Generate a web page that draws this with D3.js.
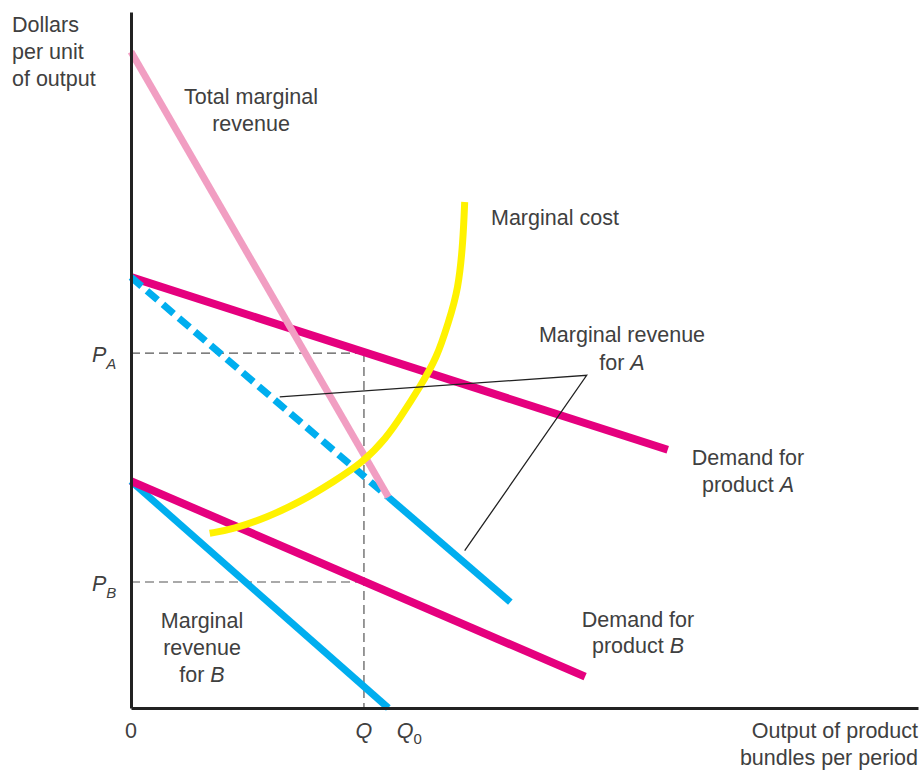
<!DOCTYPE html>
<html>
<head>
<meta charset="utf-8">
<script src="https://cdn.jsdelivr.net/npm/d3@7"></script>
<style>
  html, body { margin: 0; padding: 0; background: #fff; }
  svg { display: block; }
  text { font-family: "Liberation Sans", Arial, sans-serif; font-size: 21.5px; fill: #404040; }
  .it { font-style: italic; }
</style>
</head>
<body>
<script>
// Bundling: two demand curves, their marginal revenues, total MR and MC
const demandA = [[0, 6.19], [6.82, 3.71]];
const demandB = [[0, 3.26], [5.77, 0.45]];
const mrA = [[0, 6.19], [3.27, 3.03], [4.82, 1.52]];   // dashed up to Q0, solid after
const mrB = [[0, 3.26], [3.27, 0]];
const totalMR = [[0, 9.43], [3.27, 3.03]];
const marginalCost = [[1.00, 2.51], [1.30, 2.57], [1.73, 2.74], [2.15, 2.96], [2.57, 3.25],
                      [2.95, 3.53], [3.25, 3.89], [3.42, 4.17], [3.67, 4.61], [3.89, 5.04],
                      [4.03, 5.53], [4.16, 6.01], [4.22, 6.72], [4.24, 7.27]];
const leader = [[1.89, 4.47], [5.79, 4.78], [4.24, 2.26]];
const qValue = 2.96, q0Value = 3.27, pA = 5.10, pB = 1.81;
const xTickLabels = ["0", "Q", "Q0"];

const W = 921, H = 770;
const svg = d3.select("body").append("svg").attr("width", W).attr("height", H);

const x = d3.scaleLinear().domain([0, 10]).range([131, 918]);
const y = d3.scaleLinear().domain([0, 10]).range([708, 12]);
const line = d3.line().x(d => x(d[0])).y(d => y(d[1]));

// reference dashes for Q, PA, PB
const ref = svg.append("g").attr("stroke", "#555").attr("stroke-width", 1.2)
  .attr("stroke-dasharray", "9,5").attr("fill", "none");
ref.append("path").attr("d", line([[0, pA], [qValue, pA]]));
ref.append("path").attr("d", line([[0, pB], [qValue, pB]]));
ref.append("path").attr("d", line([[qValue, pA], [qValue, 0]]));

// marginal revenue for B
svg.append("path").attr("d", line(mrB)).attr("stroke", "#00aeef").attr("stroke-width", 7).attr("fill", "none");
// demand B
svg.append("path").attr("d", line(demandB)).attr("stroke", "#e5007e").attr("stroke-width", 8).attr("fill", "none");
// demand A
svg.append("path").attr("d", line(demandA)).attr("stroke", "#e5007e").attr("stroke-width", 8).attr("fill", "none");
// marginal revenue for A: dashed segment then solid
svg.append("path").attr("d", line(mrA.slice(0, 2))).attr("stroke", "#00aeef").attr("stroke-width", 7)
  .attr("stroke-dasharray", "14,7").attr("fill", "none");
svg.append("path").attr("d", line(mrA.slice(1))).attr("stroke", "#00aeef").attr("stroke-width", 7).attr("fill", "none");
// total marginal revenue
svg.append("path").attr("d", line(totalMR)).attr("stroke", "#f19ec2").attr("stroke-width", 7).attr("fill", "none");
// marginal cost
svg.append("path").attr("d", d3.line().x(d => x(d[0])).y(d => y(d[1])).curve(d3.curveBasis)(marginalCost))
  .attr("stroke", "#fff200").attr("stroke-width", 7).attr("fill", "none");
// leader line for "Marginal revenue for A"
svg.append("path").attr("d", line(leader)).attr("stroke", "#222").attr("stroke-width", 1.3).attr("fill", "none");

// axes
svg.append("g").attr("transform", `translate(0,${y(0)})`)
  .call(d3.axisBottom(x).tickValues([]).tickSizeOuter(0))
  .call(g => g.select(".domain").attr("stroke", "#222").attr("stroke-width", 3));
svg.append("g").attr("transform", `translate(${x(0)},0)`)
  .call(d3.axisLeft(y).tickValues([]).tickSizeOuter(0))
  .call(g => g.select(".domain").attr("stroke", "#222").attr("stroke-width", 3));

// text helpers
function label(px, py, lines, anchor = "middle", lh = 27) {
  const t = svg.append("text").attr("text-anchor", anchor);
  lines.forEach((ln, i) => {
    const parts = Array.isArray(ln) ? ln : [ln];
    parts.forEach((p, j) => {
      const ts = t.append("tspan");
      if (j === 0) ts.attr("x", px).attr("y", py + i * lh);
      if (typeof p === "object") { ts.attr("class", "it").text(p.it); } else { ts.text(p); }
    });
  });
  return t;
}

label(12, 32, ["Dollars", "per unit", "of output"], "start", 27);
label(251, 104, ["Total marginal", "revenue"], "middle", 27);
label(491, 225, ["Marginal cost"], "start");
label(622, 342, ["Marginal revenue", ["for ", {it: "A"}]], "middle", 28);
label(748, 465, ["Demand for", ["product ", {it: "A"}]], "middle", 27);
label(638, 627, ["Demand for", ["product ", {it: "B"}]], "middle", 26);
label(202, 628, ["Marginal", "revenue", ["for ", {it: "B"}]], "middle", 27);
label(918, 738, ["Output of product", "bundles per period"], "end", 27);

// x-axis labels at 0, Q, Q0
const xt = [0, qValue, q0Value];
xt.forEach((v, i) => {
  const s = xTickLabels[i];
  const t = svg.append("text").attr("x", x(v) + (i === 2 ? 21 : 0)).attr("y", 738).attr("text-anchor", "middle");
  if (i === 0) t.text(s);
  else if (i === 1) t.attr("class", "it").text(s);
  else {
    t.append("tspan").attr("class", "it").text("Q");
    t.append("tspan").attr("dy", 6).attr("font-size", 15).text("0");
  }
});

// y-axis labels PA, PB
[[pA, "A"], [pB, "B"]].forEach(([v, sub]) => {
  const t = svg.append("text").attr("x", 92).attr("y", y(v) + 9).attr("text-anchor", "start");
  t.append("tspan").attr("class", "it").text("P");
  t.append("tspan").attr("class", "it").attr("dy", 7).attr("font-size", 15).text(sub);
});
</script>
</body>
</html>
